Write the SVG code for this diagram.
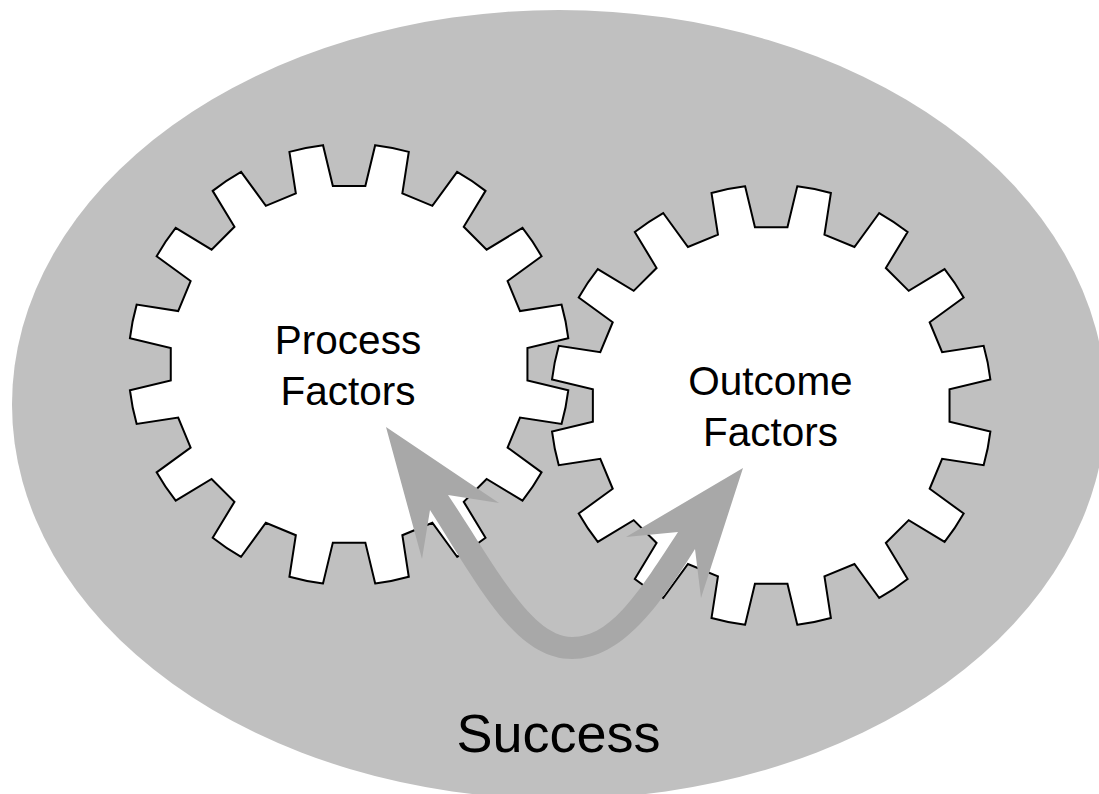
<svg xmlns="http://www.w3.org/2000/svg" xmlns:xlink="http://www.w3.org/1999/xlink" width="1099" height="794" viewBox="0 0 1099 794">
<style>
.bg{fill:#ffffff}
.field{fill:#c0c0c0}
.gear{fill:#ffffff;stroke:#000000;stroke-width:2;stroke-linejoin:miter}
.arrow{fill:#a8a8a8}
text{font-family:"Liberation Sans",Arial,sans-serif;fill:#000000;text-anchor:middle}
.lbl{font-size:40.5px}
.big{font-size:54px}
</style>
<defs>
<path id="gearShape" d="M-16.2,-177.8 L16.2,-177.8 L26,-218.5 A220,220 0 0 1 59.5,-211.8 L53.1,-170.4 L83,-158 L107.7,-191.9 A220,220 0 0 1 136,-172.9 L114.3,-137.1 L137.1,-114.3 L172.9,-136 A220,220 0 0 1 191.9,-107.7 L158,-83 L170.4,-53.1 L211.8,-59.5 A220,220 0 0 1 218.5,-26 L177.8,-16.2 L177.8,16.2 L218.5,26 A220,220 0 0 1 211.8,59.5 L170.4,53.1 L158,83 L191.9,107.7 A220,220 0 0 1 172.9,136 L137.1,114.3 L114.3,137.1 L136,172.9 A220,220 0 0 1 107.7,191.9 L83,158 L53.1,170.4 L59.5,211.8 A220,220 0 0 1 26,218.5 L16.2,177.8 L-16.2,177.8 L-26,218.5 A220,220 0 0 1 -59.5,211.8 L-53.1,170.4 L-83,158 L-107.7,191.9 A220,220 0 0 1 -136,172.9 L-114.3,137.1 L-137.1,114.3 L-172.9,136 A220,220 0 0 1 -191.9,107.7 L-158,83 L-170.4,53.1 L-211.8,59.5 A220,220 0 0 1 -218.5,26 L-177.8,16.2 L-177.8,-16.2 L-218.5,-26 A220,220 0 0 1 -211.8,-59.5 L-170.4,-53.1 L-158,-83 L-191.9,-107.7 A220,220 0 0 1 -172.9,-136 L-137.1,-114.3 L-114.3,-137.1 L-136,-172.9 A220,220 0 0 1 -107.7,-191.9 L-83,-158 L-53.1,-170.4 L-59.5,-211.8 A220,220 0 0 1 -26,-218.5 Z"/>
</defs>
<rect class="bg" x="0" y="0" width="1099" height="794"/>
<g id="success">
<ellipse class="field" cx="559" cy="404.5" rx="547" ry="394.5"/>
<text class="big" x="558.5" y="751.5">Success</text>
</g>
<g id="process-factors">
<use xlink:href="#gearShape" href="#gearShape" class="gear" transform="translate(349.1,364.3) scale(1.003)"/>
<text class="lbl" x="348" y="353.5">Process</text>
<text class="lbl" x="348" y="404.5">Factors</text>
</g>
<g id="outcome-factors">
<use xlink:href="#gearShape" href="#gearShape" class="gear" transform="translate(771.2,405.5) scale(1.003)"/>
<text class="lbl" x="770.5" y="395">Outcome</text>
<text class="lbl" x="770.5" y="445.5">Factors</text>
</g>
<g id="connectors">
<path class="arrow" d="M386,427 L499,503 L448,495 C492,560 530,637 572,637 C612,637 640,590 678,532 L626,537 L743,468 L701,598 L695,549 C660,605 622,659 572,659 C515,659 478,585 430,510 L422,559 Z"/>
</g>
</svg>
